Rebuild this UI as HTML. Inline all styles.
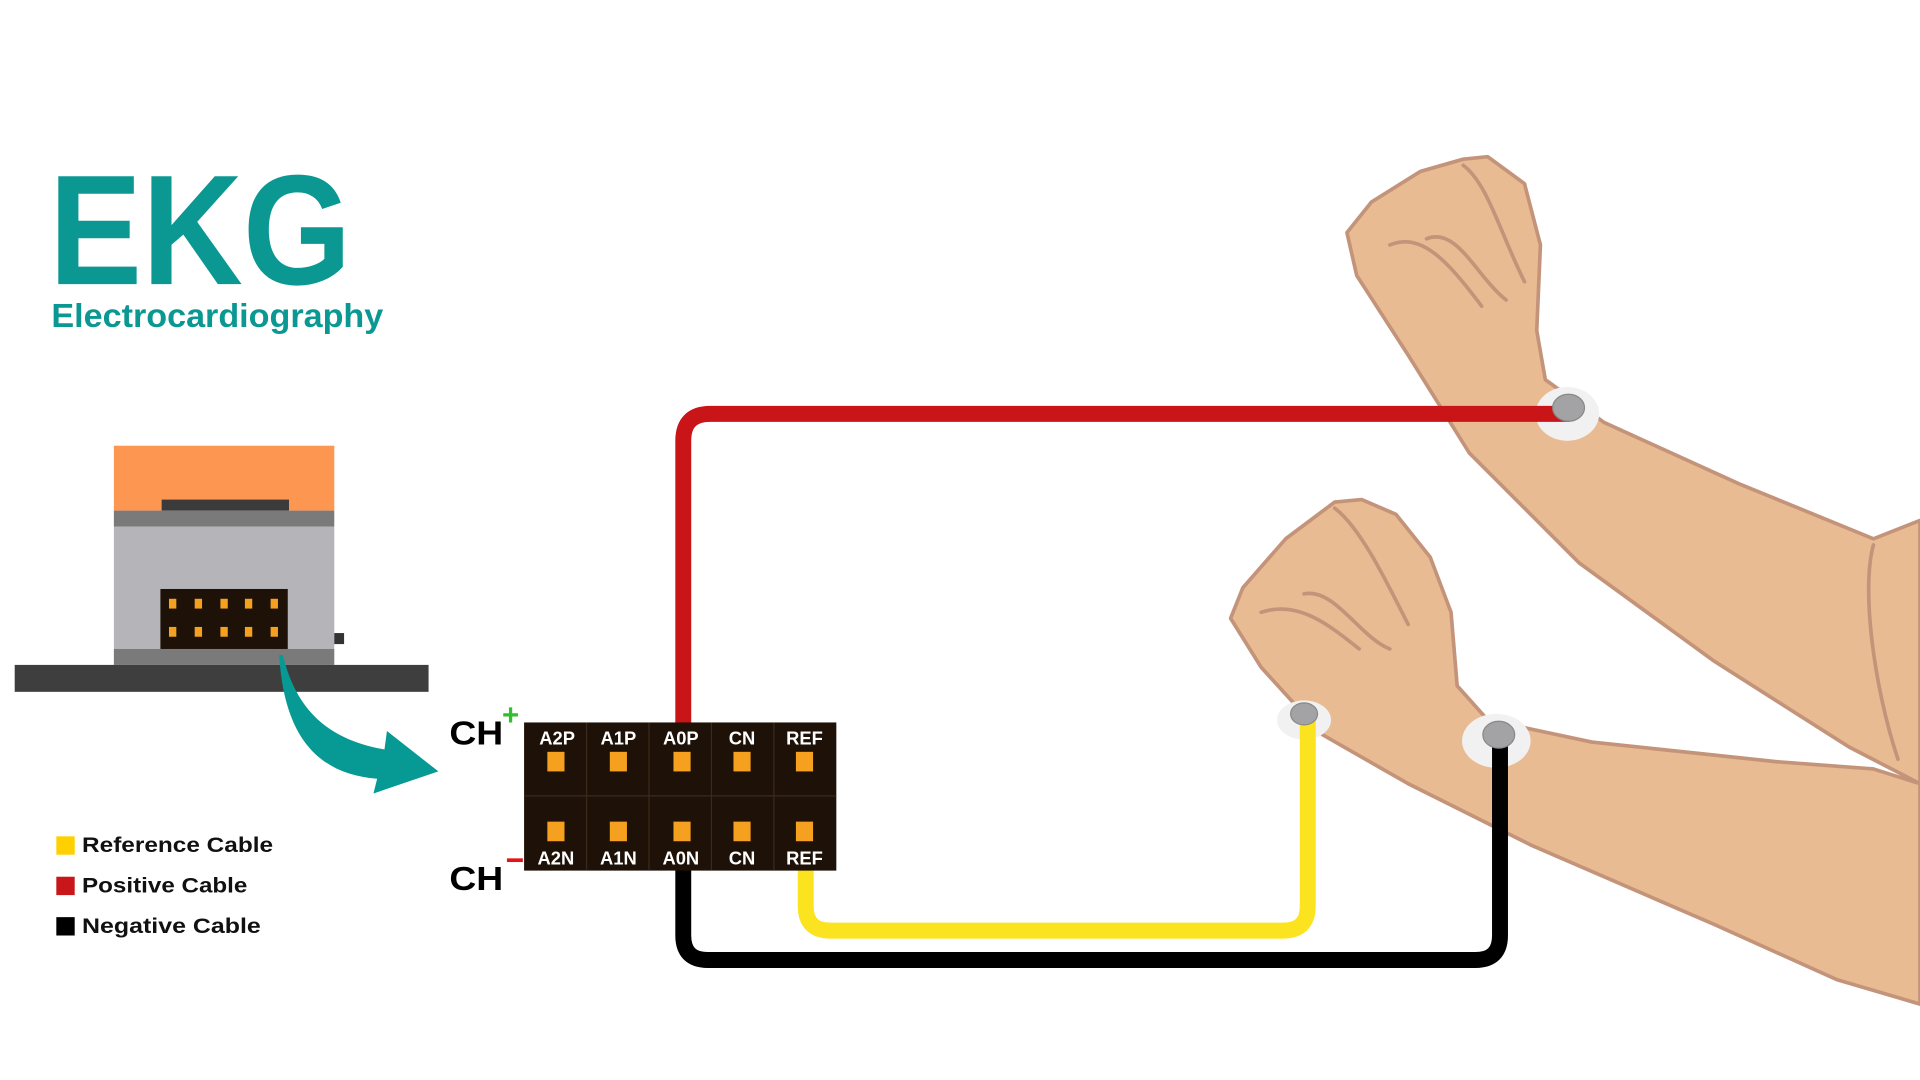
<!DOCTYPE html>
<html><head><meta charset="utf-8"><style>
html,body{margin:0;padding:0;background:#fff;width:1920px;height:1080px;overflow:hidden}
svg{display:block}
text{font-family:"Liberation Sans",sans-serif;font-weight:bold}
</style></head><body>
<svg width="1920" height="1080" viewBox="0 0 1568 882" xmlns="http://www.w3.org/2000/svg">
<rect width="1568" height="882" fill="#fff"/>
<text x="40" y="232" font-size="128" fill="#0b9892" textLength="247" lengthAdjust="spacingAndGlyphs">EKG</text>
<text x="42" y="267" font-size="27" fill="#0b9892" textLength="271" lengthAdjust="spacingAndGlyphs">Electrocardiography</text>

<!-- device -->
<rect x="93" y="364" width="180" height="53" fill="#fd9650"/>
<rect x="132" y="408" width="104" height="9" fill="#3b3b3b"/>
<rect x="93" y="417" width="180" height="13" fill="#7a7a7a"/>
<rect x="93" y="430" width="180" height="100" fill="#b4b4b9"/>
<rect x="93" y="530" width="180" height="13" fill="#7a7a7a"/>
<rect x="12" y="543" width="338" height="22" fill="#3e3e3e"/>
<rect x="131" y="481" width="104" height="49" fill="#1e1208"/>
<g fill="#f5a01f">
<rect x="138" y="489" width="6" height="8"/><rect x="159" y="489" width="6" height="8"/><rect x="180" y="489" width="6" height="8"/><rect x="200" y="489" width="6" height="8"/><rect x="221" y="489" width="6" height="8"/>
<rect x="138" y="512" width="6" height="8"/><rect x="159" y="512" width="6" height="8"/><rect x="180" y="512" width="6" height="8"/><rect x="200" y="512" width="6" height="8"/><rect x="221" y="512" width="6" height="8"/>
</g>
<rect x="273" y="517" width="8" height="9" fill="#333"/>
<!-- arrow -->
<path d="M231,535 C242,580 268,604 314,612 L316,597 L358,630 L305,648 L308,636 C258,632 232,600 228,535 Z" fill="#079994"/>

<!-- legend -->
<rect x="46" y="683" width="15" height="15" fill="#ffd000"/>
<rect x="46" y="716" width="15" height="15" fill="#c9161a"/>
<rect x="46" y="749" width="15" height="15" fill="#000"/>
<text x="67" y="696" font-size="17" fill="#111" textLength="156" lengthAdjust="spacingAndGlyphs">Reference Cable</text>
<text x="67" y="729" font-size="17" fill="#111" textLength="135" lengthAdjust="spacingAndGlyphs">Positive Cable</text>
<text x="67" y="762" font-size="17" fill="#111" textLength="146" lengthAdjust="spacingAndGlyphs">Negative Cable</text>

<!-- arms -->
<g fill="#e8bb93" stroke="#c4947a" stroke-width="3" stroke-linejoin="round">
<path d="M1568,640 L1530,628 L1450,622 L1300,606 L1215,588 L1190,560 L1185,500 L1168,455 L1140,420 L1112,408 L1090,410 L1050,440 L1015,480 L1005,505 L1030,545 L1080,600 L1150,640 L1250,690 L1400,755 L1500,800 L1568,820 Z"/>
<path d="M1568,425 L1530,440 L1420,395 L1310,345 L1262,310 L1255,270 L1258,200 L1245,150 L1215,128 L1195,130 L1160,140 L1120,165 L1100,190 L1108,225 L1150,290 L1200,370 L1290,460 L1400,540 L1510,610 L1568,640 Z"/>
</g>
<g fill="none" stroke="#c4947a" stroke-width="3" stroke-linecap="round">
<path d="M1135,200 C1160,190 1180,210 1210,250"/><path d="M1165,195 C1190,185 1205,225 1230,245"/>
<path d="M1195,135 C1215,150 1225,190 1245,230"/>
<path d="M1030,500 C1060,490 1085,510 1110,530"/><path d="M1065,485 C1090,480 1110,520 1135,530"/>
<path d="M1090,415 C1110,430 1130,470 1150,510"/>
<path d="M1530,445 C1520,480 1530,560 1550,620"/>
</g>
<!-- electrodes -->
<ellipse cx="1280" cy="338" rx="26" ry="22" fill="#f1f1f1"/>
<ellipse cx="1222" cy="605" rx="28" ry="22" fill="#f1f1f1"/>
<ellipse cx="1065" cy="588" rx="22" ry="16" fill="#f1f1f1"/>

<!-- cables -->
<g fill="none" stroke-width="13">
<path d="M558,592 L558,360 Q558,338 580,338 L1282,338" stroke="#c91517"/>
<path d="M658,708 L658,740 Q658,760 678,760 L1048,760 Q1068,760 1068,740 L1068,585" stroke="#fbe31f"/>
<path d="M558,708 L558,764 Q558,784 578,784 L1205,784 Q1225,784 1225,764 L1225,602" stroke="#000"/>
</g>
<ellipse cx="1281" cy="333" rx="13" ry="11" fill="#a3a3a5" stroke="#888" stroke-width="1"/>
<ellipse cx="1224" cy="600" rx="13" ry="11" fill="#a3a3a5" stroke="#888" stroke-width="1"/>
<ellipse cx="1065" cy="583" rx="11" ry="9" fill="#a3a3a5" stroke="#888" stroke-width="1"/>

<!-- pin block -->
<rect x="428" y="590" width="255" height="121" fill="#1e1208"/>
<g stroke="#3a2a1a" stroke-width="1">
<line x1="479" y1="590" x2="479" y2="711"/><line x1="530" y1="590" x2="530" y2="711"/><line x1="581" y1="590" x2="581" y2="711"/><line x1="632" y1="590" x2="632" y2="711"/>
<line x1="428" y1="650" x2="683" y2="650"/>
</g>
<g fill="#f5a01f">
<rect x="447" y="614" width="14" height="16"/><rect x="498" y="614" width="14" height="16"/><rect x="550" y="614" width="14" height="16"/><rect x="599" y="614" width="14" height="16"/><rect x="650" y="614" width="14" height="16"/>
<rect x="447" y="671" width="14" height="16"/><rect x="498" y="671" width="14" height="16"/><rect x="550" y="671" width="14" height="16"/><rect x="599" y="671" width="14" height="16"/><rect x="650" y="671" width="14" height="16"/>
</g>
<g fill="#fff" font-size="15" text-anchor="middle">
<text x="455" y="608">A2P</text><text x="505" y="608">A1P</text><text x="556" y="608">A0P</text><text x="606" y="608">CN</text><text x="657" y="608">REF</text>
<text x="454" y="706">A2N</text><text x="505" y="706">A1N</text><text x="556" y="706">A0N</text><text x="606" y="706">CN</text><text x="657" y="706">REF</text>
</g>
<text x="367" y="608" font-size="27" fill="#000" textLength="44" lengthAdjust="spacingAndGlyphs">CH</text>
<text x="410" y="592" font-size="24" fill="#2fbf2f">+</text>
<text x="367" y="727" font-size="27" fill="#000" textLength="44" lengthAdjust="spacingAndGlyphs">CH</text>
<rect x="414" y="701" width="13" height="3" fill="#e0141a"/>
</svg>
</body></html>
